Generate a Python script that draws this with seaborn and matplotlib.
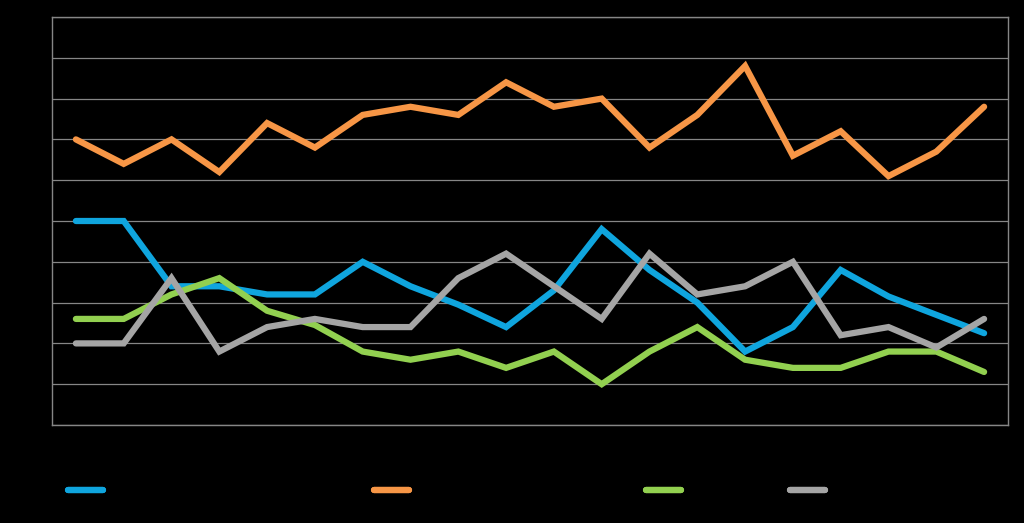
import matplotlib
matplotlib.use("Agg")
import matplotlib.pyplot as plt
import seaborn as sns
import pandas as pd

periods = [str(y) for y in range(1995, 2015)]
series_names = ["Series A", "Series B", "Series C", "Series D"]
blue_vals = [5.0, 5.0, 3.4, 3.4, 3.2, 3.2, 4.0, 3.4, 2.95, 2.4, 3.3, 4.8, 3.8, 3.0, 1.8, 2.4, 3.8, 3.15, 2.7, 2.25]
orange_vals = [7.0, 6.4, 7.0, 6.2, 7.4, 6.8, 7.6, 7.8, 7.6, 8.4, 7.8, 8.0, 6.8, 7.6, 8.8, 6.6, 7.2, 6.1, 6.7, 7.8]
green_vals = [2.6, 2.6, 3.2, 3.6, 2.8, 2.45, 1.8, 1.6, 1.8, 1.4, 1.8, 1.0, 1.8, 2.4, 1.6, 1.4, 1.4, 1.8, 1.8, 1.3]
gray_vals = [2.0, 2.0, 3.6, 1.8, 2.4, 2.6, 2.4, 2.4, 3.6, 4.2, 3.4, 2.6, 4.2, 3.2, 3.4, 4.0, 2.2, 2.4, 1.9, 2.6]
colors = ["#0FA5DE", "#F79646", "#92D050", "#A5A5A5"]

frames = []
for name, vals in zip(series_names, [blue_vals, orange_vals, green_vals, gray_vals]):
    frames.append(pd.DataFrame({"period": periods, "value": vals, "series": name}))
df = pd.concat(frames, ignore_index=True)

sns.set_style("dark")
fig = plt.figure(figsize=(10.24, 5.23), dpi=100, facecolor="black")
ax = fig.add_axes([52/1024, 1 - 425/523, (1008-52)/1024, (425-17)/523])
ax.set_facecolor("black")

sns.lineplot(data=df, x="period", y="value", hue="series", palette=colors,
             linewidth=4.5, ax=ax, sort=False, legend=True,
             solid_capstyle="round", solid_joinstyle="miter")

handles, labels = ax.get_legend_handles_labels()
ax.get_legend().remove()

ax.set_xlim(-0.5, len(periods) - 0.5)
ax.set_ylim(0, 10)
ax.set_yticks(range(0, 11))
ax.grid(axis="y", color="#868686", linewidth=0.9)
ax.grid(axis="x", visible=False)
for s in ax.spines.values():
    s.set_visible(True)
    s.set_color("#868686")
    s.set_linewidth(1.0)
ax.tick_params(colors="black", labelcolor="black", length=0)
ax.set_xlabel("")
ax.set_ylabel("")

xs = [68/1024, 374/1024, 646/1024, 790/1024]
for h, l, x in zip(handles, labels, xs):
    h.set_linewidth(4.5)
    h.set_solid_capstyle("round")
    leg = fig.legend([h], [l], loc="center left", bbox_to_anchor=(x, 1 - 491/523),
                     frameon=False, borderpad=0, borderaxespad=0,
                     handlelength=2.5, fontsize=10, labelcolor="black")
    fig.add_artist(leg)

fig.savefig("out.png", dpi=100, facecolor="black")
